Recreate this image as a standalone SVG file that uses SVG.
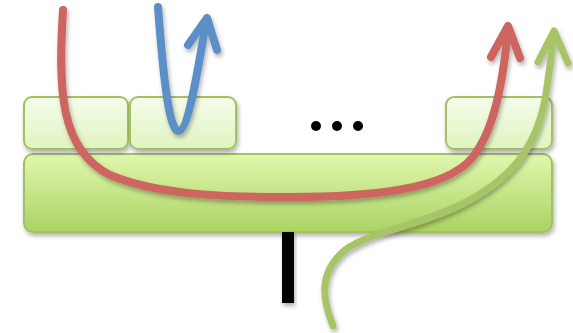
<svg xmlns="http://www.w3.org/2000/svg" width="573" height="333" viewBox="0 0 573 333">
  <defs>
    <linearGradient id="gSmall" x1="0" y1="0" x2="0" y2="1">
      <stop offset="0" stop-color="#F6FCEC"/>
      <stop offset="1" stop-color="#DFF4BE"/>
    </linearGradient>
    <linearGradient id="gBig" x1="0" y1="0" x2="0" y2="1">
      <stop offset="0" stop-color="#E1F7AE"/>
      <stop offset="1" stop-color="#ABD363"/>
    </linearGradient>
    <filter id="shadow" x="-10%" y="-10%" width="130%" height="130%">
      <feDropShadow dx="1.5" dy="3" stdDeviation="2" flood-color="#000" flood-opacity="0.3"/>
    </filter>
  </defs>
  <style>
    .box { stroke: #A3C163; stroke-width: 2; filter: url(#shadow); }
    .small { fill: url(#gSmall); }
    .big { fill: url(#gBig); }
    .flow { fill: none; stroke-linecap: round; stroke-linejoin: round; filter: url(#shadow); }
    .red { stroke: #CD6560; stroke-width: 8; }
    .blue { stroke: #5B8FC8; stroke-width: 8; }
    .green { stroke: #A7C466; stroke-width: 7; }
  </style>

  <!-- base layer -->
  <g id="base">
    <rect class="box big" x="24" y="154" width="528" height="78" rx="9"/>
  </g>
  <!-- upper blocks -->
  <g id="block1">
    <rect class="box small" x="24" y="97" width="104" height="52" rx="8"/>
  </g>
  <g id="block2">
    <rect class="box small" x="130" y="97" width="106" height="52" rx="8"/>
  </g>
  <g id="block3">
    <rect class="box small" x="446" y="97" width="106" height="52" rx="8"/>
  </g>
  <!-- ellipsis -->
  <g id="ellipsis" fill="#000">
    <circle cx="316" cy="126" r="5"/>
    <circle cx="337" cy="126" r="5"/>
    <circle cx="358" cy="126" r="5"/>
  </g>
  <!-- stem below the base -->
  <g id="stem">
    <rect x="282" y="232" width="12" height="71" fill="#000" filter="url(#shadow)"/>
  </g>

  <!-- flows -->
  <g id="connectors">
    <g class="flow red">
      <path d="M63,10 C58,90 60,150 110,175 C160,196 230,197 290,197 C370,197 445,190 472,158 C495,130 503,80 508,30"/>
      <path d="M491,57 L508,26 L520,58"/>
    </g>
    <g class="flow blue">
      <path d="M158,7 C162,60 168,130 178,131 C188,132 198,70 206,22"/>
      <path d="M188,45 L207,18 L217,50"/>
    </g>
    <g class="flow green">
      <path d="M333,326 C325,305 315,275 345,250 C370,232 420,225 460,205 C510,180 535,150 545,100 C549,75 552,50 554,34"/>
      <path d="M538,62 L554,31 L568,63"/>
    </g>
  </g>
</svg>
